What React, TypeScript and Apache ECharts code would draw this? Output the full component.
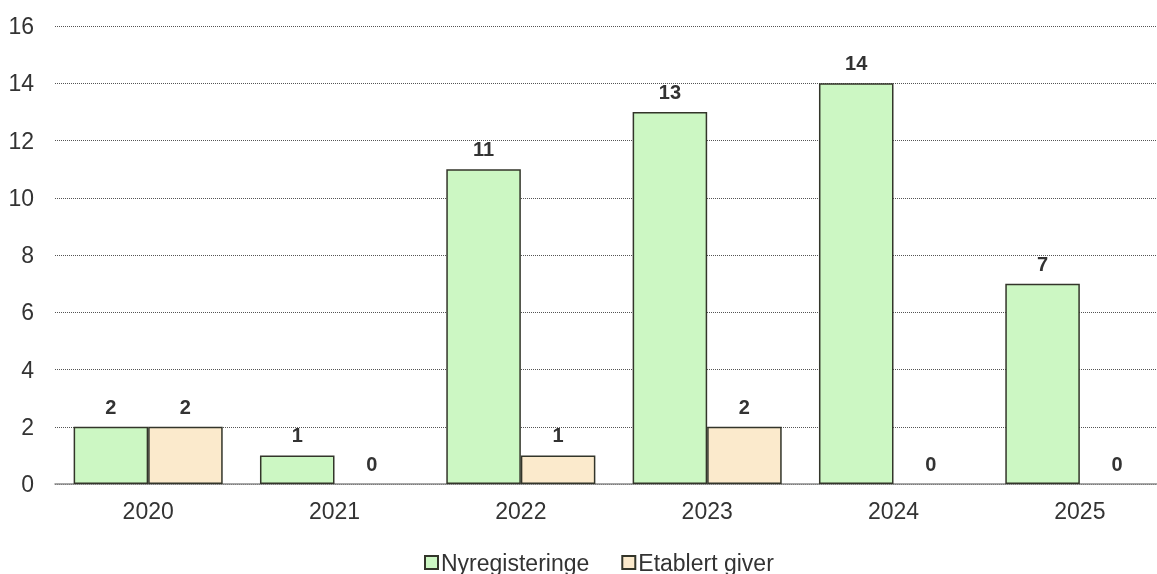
import React, { useEffect, useRef } from "react";
import * as echarts from "echarts";

const categories = ["2020", "2021", "2022", "2023", "2024", "2025"];
const nyregisteringe = [2, 1, 11, 13, 14, 7];
const etablertGiver = [2, 0, 1, 2, 0, 0];
const seriesNames = ["Nyregisteringe", "Etablert giver"];

export default function App() {
  const ref = useRef<HTMLDivElement>(null);
  useEffect(() => {
    if (!ref.current) return;
    const chart = echarts.init(ref.current, undefined, { renderer: "svg" });
    const font = "'Liberation Sans', Arial, sans-serif";
    const labelStyle = {
      show: true,
      position: "top",
      distance: 10,
      fontSize: 20,
      fontWeight: "bold",
      color: "#333333",
      fontFamily: font,
    };
    const toData = (arr: number[]) =>
      arr.map((v) => (v === 0 ? { value: v, itemStyle: { borderWidth: 0 } } : v));
    chart.setOption({
      animation: false,
      textStyle: { fontFamily: font },
      grid: { left: 55, right: 0, top: 26, bottom: 90, containLabel: false },
      legend: {
        data: seriesNames,
        left: 419,
        top: 546,
        itemWidth: 13,
        itemHeight: 13,
        itemGap: 32,
        icon: "rect",
        textStyle: { fontSize: 23, color: "#333333", fontFamily: font, padding: [0, 0, 0, -2] },
      },
      xAxis: {
        type: "category",
        data: categories,
        axisTick: { show: false },
        axisLine: { show: true, lineStyle: { color: "#8a8a8a", width: 1.5 } },
        axisLabel: { fontSize: 23, color: "#333333", margin: 15, fontFamily: font },
      },
      yAxis: {
        type: "value",
        min: 0,
        max: 16,
        interval: 2,
        axisLine: { show: false },
        axisTick: { show: false },
        axisLabel: { fontSize: 23, color: "#333333", margin: 21, fontFamily: font },
        splitLine: { show: true, lineStyle: { color: "#555555", width: 1, type: [1, 1] } },
      },
      series: [
        {
          name: seriesNames[0],
          type: "bar",
          data: toData(nyregisteringe),
          barGap: "0%",
          barCategoryGap: "20%",
          itemStyle: { color: "#ccf7c3", borderColor: "#33352a", borderWidth: 1.5 },
          label: labelStyle,
        },
        {
          name: seriesNames[1],
          type: "bar",
          data: toData(etablertGiver),
          barGap: "0%",
          barCategoryGap: "20%",
          itemStyle: { color: "#fbeacc", borderColor: "#33352a", borderWidth: 1.5 },
          label: labelStyle,
        },
      ],
    });
    return () => chart.dispose();
  }, []);
  return (
    <div style={{ position: "fixed", left: 0, top: 0, width: 1157, height: 574, overflow: "hidden" }}>
      <div ref={ref} style={{ position: "absolute", left: 0, top: 0, width: 1173, height: 574 }} />
    </div>
  );
}
